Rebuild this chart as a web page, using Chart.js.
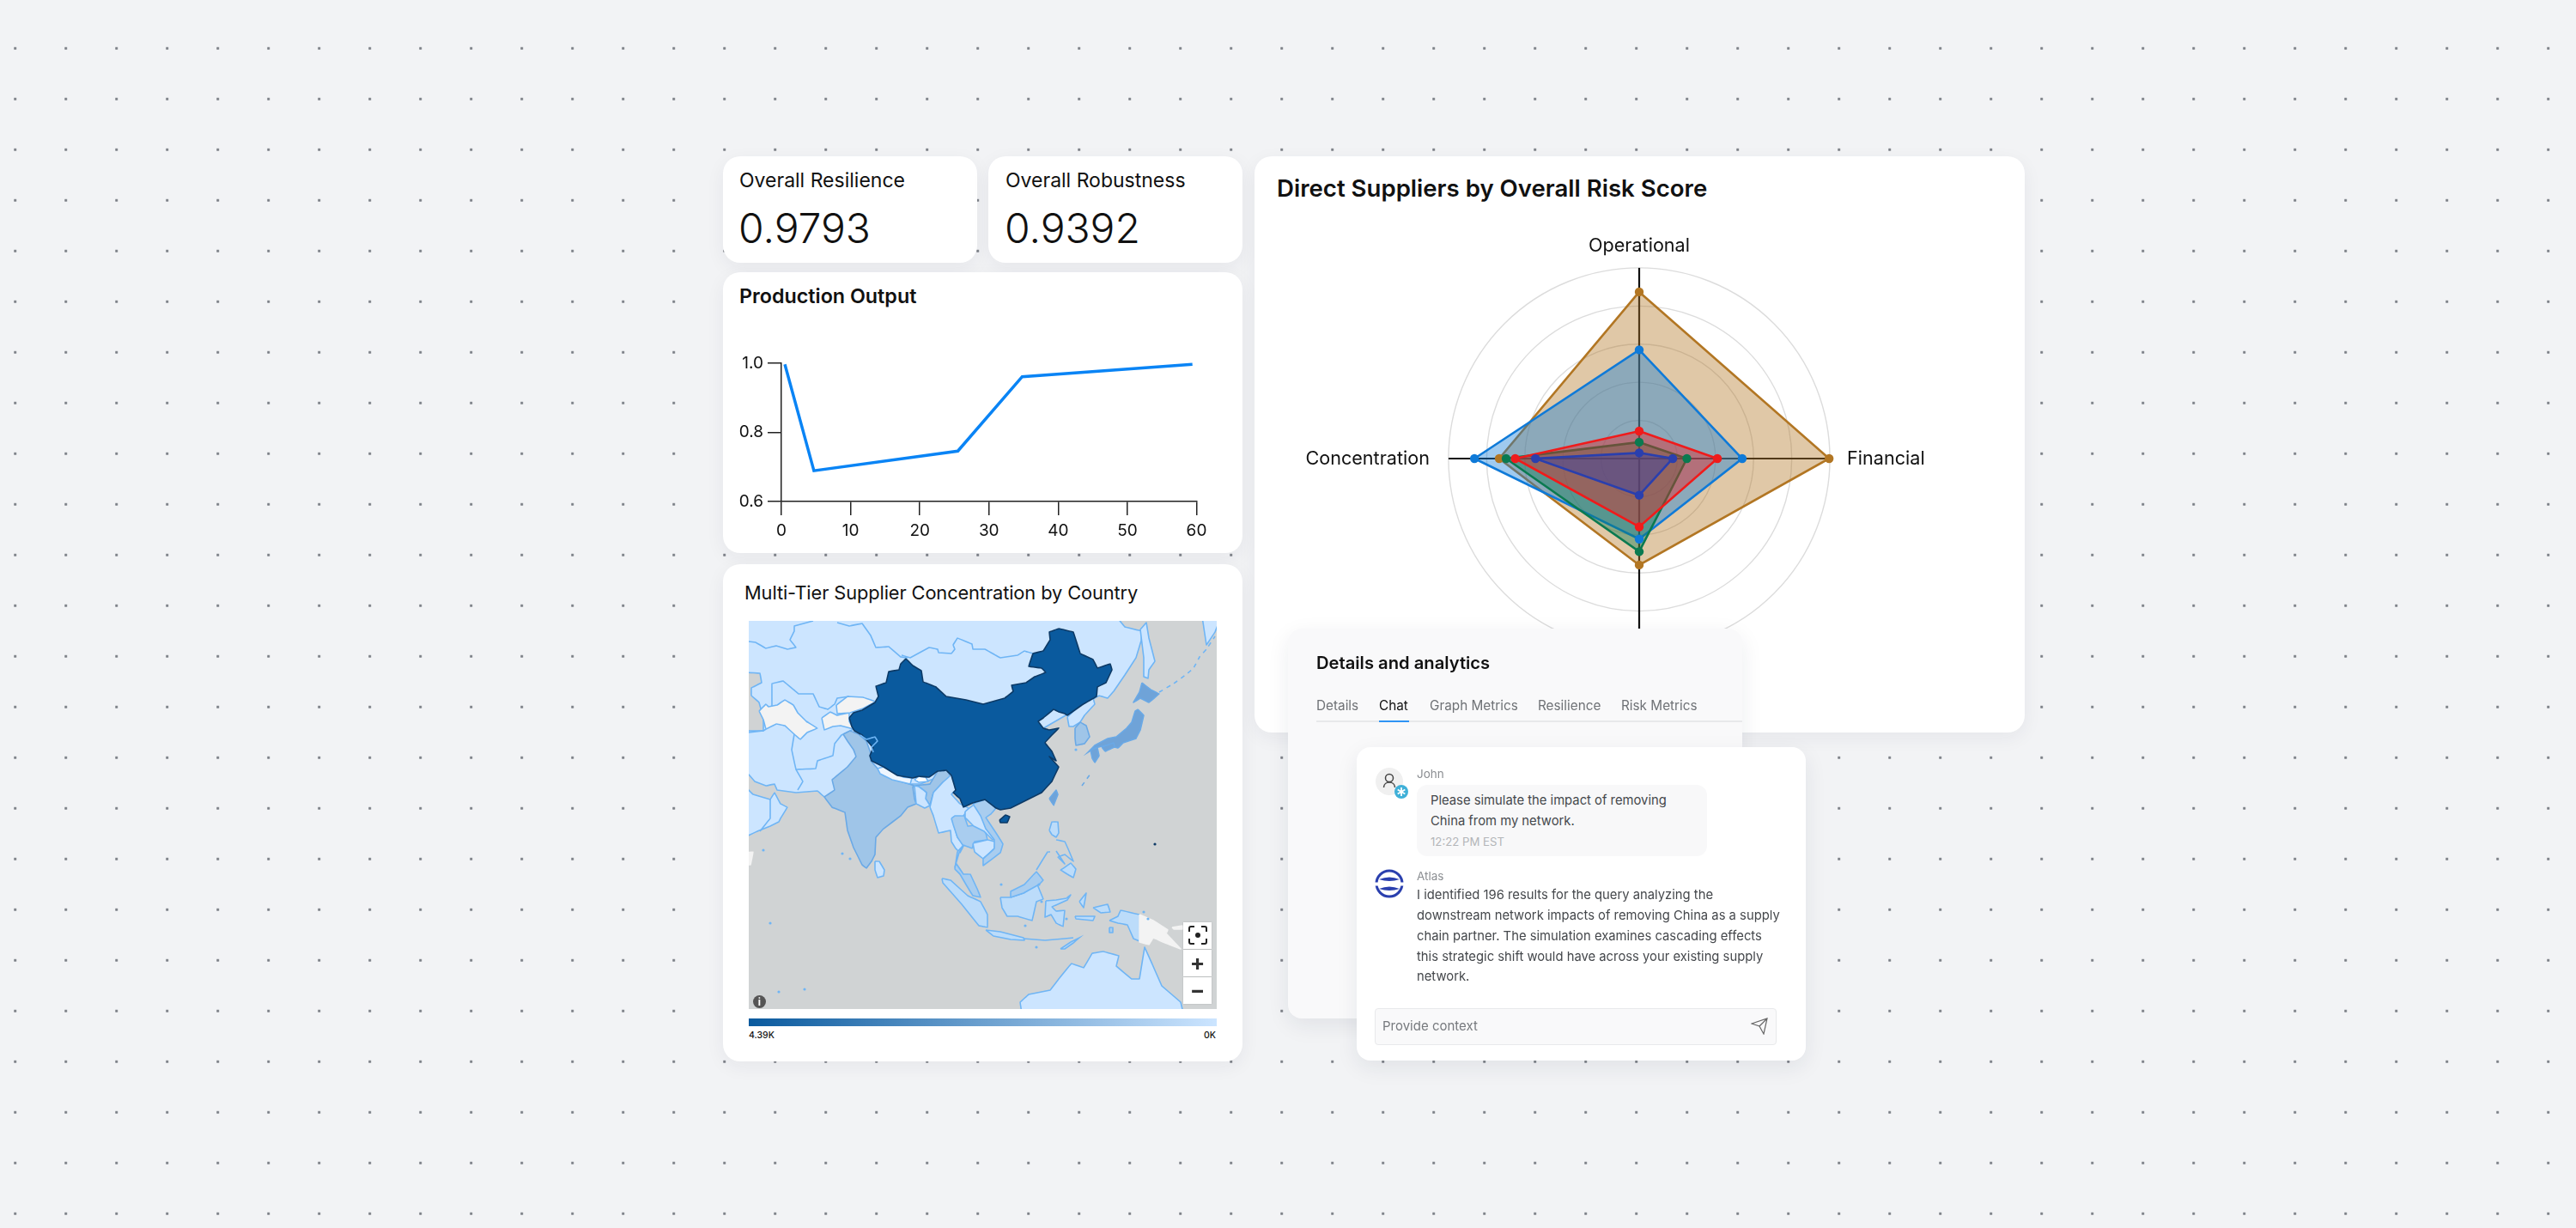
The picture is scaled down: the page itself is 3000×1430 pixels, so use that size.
<!DOCTYPE html>
<html>
<head>
<meta charset="utf-8">
<title>Supply chain dashboard</title>
<script src="https://cdn.jsdelivr.net/npm/chart.js@4"></script>
<style>
html, body { margin: 0; padding: 0; }
body {
    position: relative; width: 3000px; height: 1430px; overflow: hidden;
    font-family: Inter, sans-serif; color: #111;
    background-color: #f2f3f5;
    background-image: radial-gradient(circle, #7b7f86 1.3px, transparent 1.9px);
    background-size: 59px 59px;
    background-position: -11.8px 26.8px;
}
.card { position: absolute; background: #fff; border-radius: 20px; box-shadow: 0 6px 22px rgba(30,40,60,.06); }
.t { position: absolute; white-space: nowrap; line-height: 1; }
canvas { position: absolute; display: block; }
.tab { font-size: 15.3px; color: #6f7276; top: 814px; }
.chatline { font-size: 14.8px; color: #45484c; left: 1650px; }
.mapbtn { position: absolute; left: 1378px; width: 33px; height: 31px; background: #fff; text-align: center; font-weight: 700; font-size: 26px; line-height: 29px; color: #333; box-shadow: 0 0 2px rgba(0,0,0,.15); }
</style>
</head>
<body>

<div class="card" style="left:842px;top:182px;width:296px;height:124px"></div>
<div class="card" style="left:1151px;top:182px;width:296px;height:124px"></div>
<div class="card" style="left:842px;top:317px;width:605px;height:327px"></div>
<div class="card" style="left:842px;top:657px;width:605px;height:579px"></div>
<div class="card" style="left:1461px;top:182px;width:897px;height:671px"></div>

<div class="t" style="left:861px;top:199px;font-size:23px">Overall Resilience</div>
<div class="t" style="left:1171px;top:199px;font-size:23px">Overall Robustness</div>
<div class="t" style="left:860px;top:242px;font-size:48px;font-weight:300">0.9793</div>
<div class="t" style="left:1170px;top:242px;font-size:48px;font-weight:300">0.9392</div>
<div class="t" style="left:861px;top:333px;font-size:23.3px;font-weight:600">Production Output</div>
<div class="t" style="left:867px;top:680px;font-size:21.8px;font-weight:400;letter-spacing:-.1px">Multi-Tier Supplier Concentration by Country</div>
<div class="t" style="left:1487px;top:206px;font-size:27.6px;font-weight:600">Direct Suppliers by Overall Risk Score</div>

<canvas id="outputChart" width="605" height="327" style="left:842px;top:317px"></canvas>
<canvas id="riskChart" width="897" height="520" style="left:1461px;top:274px"></canvas>
<canvas id="mapChart" width="545" height="452" style="left:872px;top:723px;background:#d0d3d4"></canvas>

<!-- map controls -->
<div class="mapbtn" style="top:1074px">
    <svg width="22" height="22" viewBox="0 0 22 22" style="margin-top:4px" fill="none" stroke="#222" stroke-width="2"><path d="M1 7V3a2 2 0 0 1 2-2h4M15 1h4a2 2 0 0 1 2 2v4M21 15v4a2 2 0 0 1-2 2h-4M7 21H3a2 2 0 0 1-2-2v-4"/><circle cx="11" cy="11" r="3" fill="#222" stroke="none"/></svg>
</div>
<div class="mapbtn" style="top:1106px">+</div>
<div class="mapbtn" style="top:1138px">&minus;</div>
<div class="t" style="left:877px;top:1159px;width:15px;height:15px;line-height:15px;border-radius:50%;background:#555;color:#fff;font-size:12px;font-weight:700;text-align:center">i</div>

<!-- colour bar -->
<div style="position:absolute;left:872px;top:1186px;width:545px;height:9px;background:linear-gradient(90deg,#0a5a9e,#cce5ff)"></div>
<div class="t" style="left:872px;top:1201px;font-size:10.5px;font-weight:500">4.39K</div>
<div class="t" style="right:1584px;top:1201px;font-size:10.5px;font-weight:500">0K</div>

<!-- details panel -->
<div class="card" style="left:1500px;top:732px;width:529px;height:454px;background:#f9f9fa;border-radius:16px;box-shadow:0 8px 26px rgba(30,40,60,.08)"></div>
<div class="t" style="left:1533px;top:762px;font-size:20.2px;font-weight:600">Details and analytics</div>
<div class="t tab" style="left:1533px">Details</div>
<div class="t tab" style="left:1606px;color:#111">Chat</div>
<div class="t tab" style="left:1665px">Graph Metrics</div>
<div class="t tab" style="left:1791px">Resilience</div>
<div class="t tab" style="left:1888px">Risk Metrics</div>
<div style="position:absolute;left:1533px;top:839px;width:496px;height:2px;background:#e8e9eb"></div>
<div style="position:absolute;left:1606px;top:839px;width:35px;height:2px;background:#2f94f5"></div>

<!-- chat panel -->
<div class="card" style="left:1580px;top:870px;width:523px;height:365px;border-radius:16px;box-shadow:0 8px 26px rgba(30,40,60,.08)"></div>
<svg style="position:absolute;left:1600px;top:892px" width="44" height="40" viewBox="0 0 44 40">
    <circle cx="18" cy="18" r="16" fill="#f0f0f0"/>
    <circle cx="18" cy="14" r="4.5" fill="none" stroke="#444" stroke-width="1.5"/>
    <path d="M11.5 25c0-8 13-8 13 0" fill="none" stroke="#444" stroke-width="1.5"/>
    <circle cx="32" cy="30" r="8" fill="#3fb0d8"/>
    <path d="M32 25v10M27.7 27.5l8.6 5M27.7 32.5l8.6-5" stroke="#fff" stroke-width="1.8"/>
</svg>
<svg style="position:absolute;left:1600px;top:1012px" width="36" height="36" viewBox="0 0 36 36">
    <circle cx="18" cy="17" r="15" fill="none" stroke="#2a3fae" stroke-width="3"/>
    <path d="M6 12q12 -5 24 0q-12 4 -24 0zM6 23q12 -5 24 0q-12 4 -24 0z" fill="#2a3fae"/>
    <path d="M1 17.5h34" stroke="#fff" stroke-width="4"/>
</svg>
<div class="t" style="left:1650px;top:895px;font-size:13.5px;color:#8b8e92">John</div>
<div style="position:absolute;left:1650px;top:914px;width:338px;height:83px;background:#f8f8f9;border-radius:12px"></div>
<div class="t chatline" style="left:1666px;top:925px">Please simulate the impact of removing</div>
<div class="t chatline" style="left:1666px;top:949px">China from my network.</div>
<div class="t" style="left:1666px;top:974px;font-size:13.2px;color:#b3b5b8">12:22 PM EST</div>
<div class="t" style="left:1650px;top:1014px;font-size:13.5px;color:#8b8e92">Atlas</div>
<div class="t chatline" style="top:1035px">I identified 196 results for the query analyzing the</div>
<div class="t chatline" style="top:1059px">downstream network impacts of removing China as a supply</div>
<div class="t chatline" style="top:1083px">chain partner. The simulation examines cascading effects</div>
<div class="t chatline" style="top:1107px">this strategic shift would have across your existing supply</div>
<div class="t chatline" style="top:1130px">network.</div>
<div style="position:absolute;left:1601px;top:1174px;width:466px;height:41px;background:#f9f9fa;border:1px solid #e8e9eb;border-radius:4px"></div>
<div class="t" style="left:1610px;top:1187px;font-size:15px;color:#777a7e">Provide context</div>
<svg style="position:absolute;left:2039px;top:1185px" width="20" height="20" viewBox="0 0 20 20" fill="none" stroke="#666" stroke-width="1.2"><path d="M1 7L19 1L15 19L10 10ZM10 10L19 1"/></svg>

<script>
// Production Output
const outputTimes = [0.5, 4.7, 25.5, 34.8, 59.4];
const outputValues = [0.997, 0.689, 0.746, 0.961, 0.997];

// Direct Suppliers by Overall Risk Score, bottom axis label is hidden by the panel
const riskAxes = ['Operational', 'Financial', '', 'Concentration'];
const riskOrange = [4.37, 4.98, 2.79, 3.67];
const riskBlue = [2.85, 2.70, 2.11, 4.32];
const riskGreen = [0.43, 1.25, 2.44, 3.49];
const riskRed = [0.72, 2.05, 1.79, 3.25];
const riskNavy = [0.15, 0.88, 0.96, 2.72];

// Map outlines in map units (545 x 452, y down)
const westAsia = [[-5,-5],[428,-5],[438,7],[458,12],[457,23],[451,43],[438,63],[425,82],[418,90],[408,87],[395,95],[300,150],[200,190],[120,190],[88,205],[80,198],[55,200],[33,197],[30,190],[20,192],[7,187],[-5,173]];
const caspian = [[-5,60],[13,61],[15,72],[3,78],[3,87],[12,95],[17,113],[17,128],[-5,128]];
const kamchatka = [[528,-5],[533,28],[543,13],[550,-5]];
const sakhalin = [[456,10],[463,2],[466,20],[473,47],[466,57],[465,67],[460,65],[460,43]];
const kurils = [[478,83],[495,73],[510,62],[518,55],[525,42],[533,33],[543,18]];
const arabia = [[-5,192],[5,202],[25,208],[30,200],[37,213],[45,217],[37,230],[35,234],[25,239],[10,245],[-5,252]];
const arabiaBorder = [[25,208],[25,230],[13,245]];
const somalia = [[-5,270],[5,269],[2,284],[-5,284]];
const russiaBorderWest = [[0,24],[8,25],[20,32],[32,29],[45,33],[55,31],[48,22],[53,12],[53,6],[75,0]];
const russiaBorderEast = [[103,2],[117,6],[132,3],[142,17],[148,31],[163,30],[177,42],[185,43]];
const mongoliaBorder = [[178,40],[188,43],[210,31],[220,33],[221,37],[236,38],[240,33],[238,28],[243,20],[260,27],[261,33],[275,33],[293,43],[313,40],[321,35],[331,38]];
const uzbekBorder = [[27,100],[27,73],[40,70],[58,85],[75,85],[82,100],[92,103],[100,97],[103,90],[117,88]];
const iranBorder = [[0,130],[17,128],[20,126]];
const afghanBorder = [[53,132],[50,150],[55,173],[78,172],[80,163],[98,157],[100,143],[108,133],[122,126]];
const pakistanBorder = [[55,173],[63,187],[57,197]];
const turkmenistan = [[12,105],[20,97],[23,100],[33,98],[42,92],[52,98],[57,107],[67,117],[80,125],[68,130],[60,138],[53,132],[42,122],[32,120],[20,126],[17,115]];
const tajikistan = [[85,113],[95,106],[103,110],[117,107],[117,117],[122,126],[107,122],[98,123],[88,127]];
const kyrgyzstan = [[102,98],[115,88],[133,89],[148,94],[133,102],[118,107],[103,108]];
const india = [[110,132],[118,128],[128,132],[137,140],[143,157],[142,163],[150,172],[157,180],[180,188],[190,191],[193,192],[211,190],[220,175],[231,174],[235,182],[226,188],[215,200],[211,215],[206,207],[207,200],[198,193],[191,193],[193,207],[195,213],[185,217],[177,227],[157,242],[148,252],[147,272],[143,280],[137,288],[132,284],[122,264],[115,244],[112,223],[97,217],[88,205],[100,197],[97,185],[115,170],[125,158],[122,150],[115,140]];
const nepal = [[150,172],[157,170],[180,182],[190,183],[188,190],[167,185],[153,178]];
const bhutan = [[193,185],[198,181],[206,182],[209,187],[198,188]];
const bangladesh = [[193,192],[198,193],[207,200],[206,207],[211,215],[205,218],[195,213]];
const sriLanka = [[147,280],[152,280],[158,290],[157,297],[150,299],[147,290]];
const myanmar = [[235,180],[238,179],[241,197],[236,202],[246,213],[256,218],[250,227],[238,234],[243,252],[250,262],[246,270],[241,265],[236,257],[235,244],[221,247],[215,227],[211,217],[215,200],[226,188]];
const thailand = [[236,230],[240,227],[251,227],[255,239],[271,237],[276,247],[278,255],[263,257],[260,265],[250,261],[243,269],[241,282],[248,292],[240,287],[245,270],[250,262],[243,252],[238,237]];
const laos = [[252,222],[262,214],[272,229],[288,248],[284,255],[274,245],[262,239],[252,229]];
const cambodia = [[261,259],[278,255],[287,257],[286,265],[273,277],[263,269]];
const vietnam = [[261,213],[275,208],[288,218],[282,225],[276,229],[288,247],[296,260],[293,270],[273,285],[273,277],[281,270],[286,265],[286,255],[276,242],[270,227]];
const malayPeninsula = [[241,282],[250,295],[258,295],[266,312],[270,322],[261,320],[253,307],[246,295],[240,289]];
const sumatra = [[225,300],[235,302],[255,320],[270,327],[278,342],[278,357],[268,355],[248,330],[226,305]];
const java = [[276,360],[293,362],[320,369],[321,372],[305,371],[285,367]];
const sunda = [[320,370],[345,372],[368,370],[378,369]];
const timor = [[363,382],[375,374],[385,369],[378,375],[368,382]];
const kalimantan = [[293,322],[305,322],[320,317],[336,307],[343,324],[335,327],[330,349],[313,344],[301,344],[295,334]];
const sabahSarawak = [[305,322],[305,315],[321,307],[335,292],[343,302],[338,307],[320,317]];
const sulawesi = [[346,326],[358,325],[370,323],[375,319],[371,325],[360,330],[353,333],[358,338],[368,337],[366,356],[358,352],[352,342],[345,345]];
const luzon = [[350,244],[353,234],[360,234],[361,247],[358,252],[353,249]];
const visayas = [[358,255],[368,257],[373,268],[378,280],[368,272],[360,275],[368,283],[358,268]];
const mindanao = [[368,287],[375,282],[381,289],[378,299],[371,295],[363,290]];
const palawan = [[335,290],[348,269],[351,269]];
const taiwan = [[350,207],[358,197],[360,202],[355,215]];
const northKorea = [[371,112],[386,98],[401,90],[403,97],[391,110],[386,118],[378,123],[373,123]];
const southKorea = [[380,125],[386,118],[393,122],[397,135],[391,143],[381,145],[380,137]];
const hokkaido = [[458,72],[468,80],[478,85],[466,95],[456,90],[448,95],[455,83]];
const honshu = [[453,103],[460,110],[456,127],[451,137],[436,142],[430,148],[416,145],[403,148],[395,153],[403,145],[418,137],[428,135],[440,125],[446,118],[450,105]];
const kyushu = [[398,150],[406,148],[408,157],[403,165],[400,160]];
const shikoku = [[411,147],[425,142],[426,147],[415,152]];
const ryukyu = [[388,192],[398,178]];
const china = [[117,113],[122,107],[132,104],[147,95],[151,88],[148,76],[160,72],[163,59],[175,57],[177,50],[183,44],[191,52],[201,58],[203,71],[218,77],[230,88],[253,92],[273,97],[298,90],[308,82],[306,75],[323,72],[333,65],[346,60],[341,55],[326,53],[331,38],[343,35],[351,22],[350,13],[361,9],[378,13],[386,38],[401,45],[406,55],[421,50],[423,57],[416,72],[406,77],[405,88],[388,98],[371,110],[368,108],[361,106],[355,103],[343,113],[337,117],[343,125],[350,127],[361,125],[353,133],[345,142],[353,152],[358,163],[350,158],[361,170],[353,187],[341,200],[325,208],[305,218],[293,220],[288,218],[275,208],[261,212],[250,217],[246,207],[238,200],[241,197],[236,180],[230,174],[220,175],[210,182],[198,181],[191,183],[173,180],[157,170],[143,163],[141,157],[145,148],[140,142],[132,133],[123,128],[120,123]];
const aksaiChin = [[130,133],[137,138],[147,135],[150,140],[143,147],[145,153]];
const hainan = [[292,232],[299,226],[304,228],[301,235],[293,235]];
const australia = [[318,457],[316,444],[326,435],[351,430],[361,417],[376,399],[390,404],[400,387],[413,385],[431,390],[428,402],[446,417],[455,417],[461,380],[470,400],[481,425],[503,444],[506,457]];
const westPapua = [[420,349],[430,344],[433,337],[455,342],[455,373],[448,370],[441,354],[430,352]];
const papuaNewGuinea = [[455,342],[471,349],[488,360],[486,364],[503,382],[490,377],[471,369],[466,377],[455,374]];
const newBritain = [[493,357],[505,355],[505,359],[495,359]];
const seram = [[380,344],[403,344],[401,349],[381,347]];
const halmahera = [[385,327],[393,317],[390,334]];
const birdsHead = [[401,334],[418,330],[421,339],[410,340]];
const aru = [[420,357],[424,357],[424,363],[420,363]];
const mapIslets = [[17,267],[25,352],[35,432],[65,429],[109,271],[118,277],[381,150],[338,307],[341,327],[322,355],[370,347],[294,307],[335,380],[465,347],[460,339]];
const guam = [[473,260]];

Chart.defaults.font.family = 'Inter';
Chart.defaults.color = '#111';
Chart.defaults.animation = false;
Chart.defaults.events = [];
Chart.defaults.plugins.legend.display = false;
Chart.defaults.plugins.tooltip.enabled = false;

const axisColor = '#222';

const setupOutputChart = () => {
    new Chart(document.getElementById('outputChart'), {
        type: 'line',
        data: {
            datasets: [{
                data: outputTimes.map((x, i) => ({ x, y: outputValues[i] })),
                borderColor: '#0a84f5',
                borderWidth: 3.5,
                pointRadius: 0,
                tension: 0,
                clip: false
            }]
        },
        options: {
            responsive: false,
            layout: { autoPadding: false, padding: { top: 106, right: 53.5 } },
            scales: {
                x: {
                    type: 'linear', min: 0, max: 60,
                    afterFit: (scale) => { scale.height = 60; },
                    grid: { drawOnChartArea: false, tickLength: 16, color: axisColor, lineWidth: 1.5 },
                    border: { color: axisColor, width: 1.5 },
                    ticks: { stepSize: 10, padding: 7, font: { size: 19 }, maxRotation: 0 }
                },
                y: {
                    min: 0.6, max: 1,
                    afterFit: (scale) => { scale.width = 68; },
                    grid: { drawOnChartArea: false, tickLength: 16, color: axisColor, lineWidth: 1.5 },
                    border: { color: axisColor, width: 1.5 },
                    ticks: { stepSize: 0.2, padding: 5, font: { size: 19 }, callback: (v) => v.toFixed(1) }
                }
            }
        }
    });
};

const setupRiskChart = () => {
    // first dataset paints last, so the dots go first to stay above every fill
    const series = [
        [riskNavy, '42,63,174'],
        [riskRed, '240,27,27'],
        [riskGreen, '10,122,80'],
        [riskBlue, '15,122,216'],
        [riskOrange, '178,118,35']
    ];
    const dots = series.map(([data, rgb]) => ({
        data,
        borderWidth: 0,
        fill: false,
        pointRadius: 5.2,
        pointBorderWidth: 0,
        pointBackgroundColor: `rgb(${rgb})`
    }));
    const polygons = series.map(([data, rgb]) => ({
        data,
        borderColor: `rgb(${rgb})`,
        borderWidth: 2.6,
        backgroundColor: `rgba(${rgb},0.4)`,
        fill: true,
        pointRadius: 0
    }));
    new Chart(document.getElementById('riskChart'), {
        type: 'radar',
        data: { labels: riskAxes, datasets: dots.concat(polygons) },
        options: {
            responsive: false,
            scales: {
                r: {
                    min: 0, max: 5,
                    ticks: { display: false, stepSize: 1 },
                    grid: { circular: true, color: '#dcdcdc', lineWidth: 1.4 },
                    angleLines: { color: '#111', lineWidth: 2.2 },
                    pointLabels: {
                        color: '#111',
                        font: { size: 21.6 },
                        padding: (ctx) => [12, 20, 12, 22][ctx.index]
                    }
                }
            }
        }
    });
};

const setupMapChart = () => {
    const light = '#cce5ff', pale = '#bcdcfa', mid = '#9fc5e8', soft = '#a9cdef', strong = '#6fa3d8';
    const blank = '#f3f3f3', dark = '#0a5a9e', grey = '#d0d3d4';
    const edge = '#6fb5f5', midEdge = '#6aa9e6', darkEdge = '#0d3a66';
    // bottom layer first: [outline, fill, edge, dashed]
    const layers = [
        [westAsia, light, edge], [caspian, grey, edge], [kamchatka, light, edge], [sakhalin, light, edge],
        [kurils, null, edge, true], [arabia, light, edge], [arabiaBorder, null, edge], [somalia, blank, blank],
        [russiaBorderWest, null, edge], [russiaBorderEast, null, edge], [mongoliaBorder, null, edge],
        [uzbekBorder, null, edge], [iranBorder, null, edge], [afghanBorder, null, edge], [pakistanBorder, null, edge],
        [turkmenistan, blank, edge], [tajikistan, blank, edge], [kyrgyzstan, blank, edge],
        [india, mid, midEdge], [nepal, '#eef6ff', edge], [bhutan, '#ffffff', edge], [bangladesh, light, edge], [sriLanka, light, edge],
        [myanmar, light, edge], [thailand, soft, edge], [laos, light, edge], [cambodia, light, edge], [vietnam, soft, edge],
        [malayPeninsula, soft, edge], [sumatra, pale, edge], [java, pale, edge], [sunda, null, edge], [timor, pale, edge],
        [kalimantan, pale, edge], [sabahSarawak, soft, edge], [sulawesi, pale, edge], [luzon, pale, edge], [visayas, null, edge],
        [mindanao, pale, edge], [palawan, null, edge], [taiwan, strong, midEdge],
        [northKorea, light, edge], [southKorea, mid, midEdge],
        [china, dark, darkEdge], [aksaiChin, null, edge], [hainan, dark, darkEdge],
        [hokkaido, strong, midEdge], [honshu, strong, midEdge], [kyushu, strong, midEdge], [shikoku, strong, midEdge], [ryukyu, null, midEdge, true],
        [australia, light, edge], [westPapua, pale, edge], [papuaNewGuinea, blank, blank], [newBritain, blank, blank],
        [seram, pale, edge], [halmahera, pale, edge], [birdsHead, pale, edge], [aru, soft, edge]
    ];
    const toPoints = (list) => list.map(([x, y]) => ({ x, y }));
    const outlines = layers.map(([outline, fillColor, edgeColor, dashed]) => ({
        data: toPoints(fillColor ? outline.concat([outline[0]]) : outline),
        showLine: true,
        tension: 0.01,
        pointRadius: 0,
        borderWidth: 1.6,
        borderColor: edgeColor,
        borderDash: dashed ? [5, 5] : [],
        backgroundColor: fillColor || 'transparent',
        fill: fillColor ? 'shape' : false
    }));
    const dots = [
        { data: toPoints(guam), pointRadius: 1.6, pointBackgroundColor: darkEdge, pointBorderWidth: 0 },
        { data: toPoints(mapIslets), pointRadius: 1.6, pointBackgroundColor: edge, pointBorderWidth: 0 }
    ];
    new Chart(document.getElementById('mapChart'), {
        type: 'scatter',
        data: { datasets: dots.concat(outlines.reverse()) },
        options: {
            responsive: false,
            layout: { autoPadding: false },
            scales: {
                x: { type: 'linear', display: false, min: 0, max: 545 },
                y: { type: 'linear', display: false, min: 0, max: 452, reverse: true }
            }
        }
    });
};

setupOutputChart();
setupRiskChart();
setupMapChart();
</script>
</body>
</html>
